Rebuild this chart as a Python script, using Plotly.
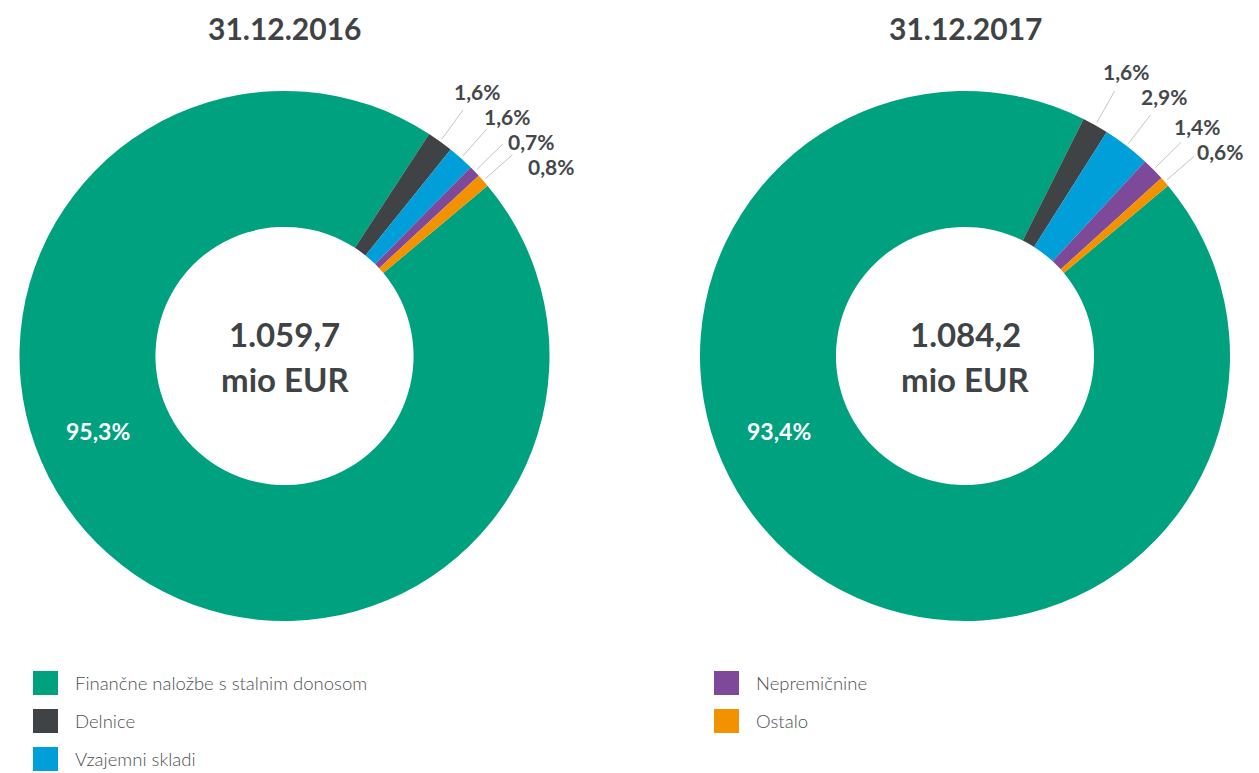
import math
import plotly.graph_objects as go

# ---------------- data ----------------
categories = ["Finančne naložbe s stalnim donosom", "Delnice", "Vzajemni skladi",
              "Nepremičnine", "Ostalo"]
share_2016 = [95.3, 1.6, 1.6, 0.7, 0.8]
share_2017 = [93.4, 1.6, 2.9, 1.4, 0.6]
total_2016 = 1059.7
total_2017 = 1084.2
titles = ["31.12.2016", "31.12.2017"]
unit_label = "mio EUR"
colors = ["#00a17e", "#404346", "#009fd9", "#7e4999", "#f39200"]

# ---------------- layout constants ----------------
PAGE_W, PAGE_H = 1259, 773
OFF = 8                      # default page body margin
W, H = PAGE_W - OFF, PAGE_H - OFF
R = 265            # outer radius in px
HOLE = 0.487
ROTATION = 50      # degrees clockwise from 12 o'clock where first slice starts
centers = [(284.5, 356), (965, 356)]   # page pixel coordinates
TEXT = "#404346"
FONT = "Lato, 'Open Sans', sans-serif"


def fmt_si(v, dec):
    s = f"{v:,.{dec}f}"
    return s.replace(",", "X").replace(".", ",").replace("X", ".")


def px(x):
    return (x - OFF) / W


def py(y):
    return 1 - (y - OFF) / H


def polar(cx, cy, r, ang):
    a = math.radians(ang)
    return cx + r * math.sin(a), cy - r * math.cos(a)


fig = go.Figure()
annotations = []
shapes = []

for shares, total, title, (cx, cy) in zip([share_2016, share_2017],
                                          [total_2016, total_2017],
                                          titles, centers):
    fig.add_trace(go.Pie(
        labels=categories,
        values=shares,
        hole=HOLE,
        sort=False,
        direction="clockwise",
        rotation=ROTATION,
        marker=dict(colors=colors, line=dict(width=0)),
        textinfo="none",
        hoverinfo="label+percent",
        domain=dict(x=[px(cx - R), px(cx + R)], y=[py(cy + R), py(cy - R)]),
        showlegend=False,
    ))

    # title
    annotations.append(dict(x=px(cx), y=py(28), xref="paper", yref="paper",
                            text=f"<b>{title}</b>", showarrow=False,
                            xanchor="center", yanchor="middle",
                            font=dict(family=FONT, size=30, color=TEXT)))
    # center total
    annotations.append(dict(x=px(cx), y=py(334), xref="paper", yref="paper",
                            text=f"<b>{fmt_si(total, 1)}</b>", showarrow=False,
                            xanchor="center", yanchor="middle",
                            font=dict(family=FONT, size=33, color=TEXT)))
    annotations.append(dict(x=px(cx), y=py(379), xref="paper", yref="paper",
                            text=f"<b>{unit_label}</b>", showarrow=False,
                            xanchor="center", yanchor="middle",
                            font=dict(family=FONT, size=33, color=TEXT)))

    # slice angles
    tot = sum(shares)
    mids = []
    start = ROTATION
    for v in shares:
        span = 360 * v / tot
        mids.append(start + span / 2)
        start += span

    # big slice label (inside ring)
    gx, gy = polar(cx, cy, 201, 248)
    annotations.append(dict(x=px(gx), y=py(gy), xref="paper", yref="paper",
                            text=f"<b>{fmt_si(shares[0], 1)}%</b>", showarrow=False,
                            xanchor="center", yanchor="middle",
                            font=dict(family=FONT, size=23, color="white")))

    # small slice labels with leader lines
    RL, GAP = 327, 25
    prev_y = -1e9
    for i in range(1, len(shares)):
        ang = mids[i] % 360
        x0, y0 = polar(cx, cy, 268, ang)
        x1, y1 = polar(cx, cy, 304, ang)
        shapes.append(dict(type="line", xref="paper", yref="paper",
                           x0=px(x0), y0=py(y0), x1=px(x1), y1=py(y1),
                           line=dict(color="#c4c4c4", width=1)))
        ly = cy - RL * math.cos(math.radians(ang))
        ly = max(ly, prev_y + GAP)
        prev_y = ly
        lx = cx + math.sqrt(max(RL ** 2 - (cy - ly) ** 2, 0))
        annotations.append(dict(x=px(lx), y=py(ly), xref="paper", yref="paper",
                                text=f"<b>{fmt_si(shares[i], 1)}%</b>",
                                showarrow=False, xanchor="center", yanchor="middle",
                                font=dict(family=FONT, size=21, color="#45484b")))

# ---------------- legend (two columns) ----------------
col_x = [33, 714]
row_y = [683, 721, 759]
for i, (lab, col) in enumerate(zip(categories, colors)):
    c, r = divmod(i, 3)
    sx, sy = col_x[c], row_y[r]
    shapes.append(dict(type="rect", xref="paper", yref="paper",
                       x0=px(sx), x1=px(sx + 25), y0=py(sy + 12), y1=py(sy - 12),
                       fillcolor=col, line=dict(width=0)))
    annotations.append(dict(x=px(sx + 40), y=py(sy), xref="paper", yref="paper",
                            text=lab, showarrow=False, xanchor="left",
                            yanchor="middle",
                            font=dict(family=FONT, size=18.5, color="#4d5053",
                                      weight=300)))

fig.update_layout(
    width=W, height=H,
    margin=dict(l=0, r=0, t=0, b=0),
    paper_bgcolor="white", plot_bgcolor="white",
    showlegend=False,
    annotations=annotations,
    shapes=shapes,
)

fig.write_html("out.html")
